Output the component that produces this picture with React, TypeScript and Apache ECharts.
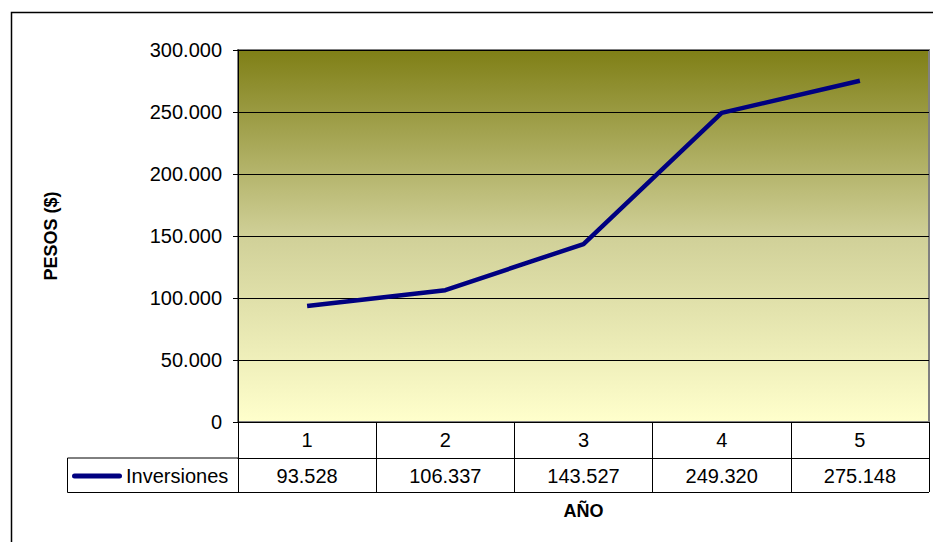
import React, { useEffect, useRef } from "react";
import * as echarts from "echarts";

const categories = ["1", "2", "3", "4", "5"];
const inversiones = [93528, 106337, 143527, 249320, 275148];
const seriesName = "Inversiones";
const yTitle = "PESOS ($)";
const xTitle = "AÑO";

const fmt = (v: number) => String(Math.round(v)).replace(/\B(?=(\d{3})+(?!\d))/g, ".");
const valueLabels = inversiones.map(fmt);

const FONT = "Liberation Sans, Arial, sans-serif";

export default function App() {
  const ref = useRef<HTMLDivElement>(null);
  useEffect(() => {
    if (!ref.current) return;
    const chart = echarts.init(ref.current, null, { renderer: "svg" });
    chart.setOption({
      animation: false,
      textStyle: { fontFamily: FONT, color: "#000" },
      grid: {
        left: 238,
        top: 50,
        right: 4,
        bottom: 120,
        show: true,
        borderColor: "#808080",
        borderWidth: 2,
        backgroundColor: new echarts.graphic.LinearGradient(0, 0, 0, 1, [
          { offset: 0, color: "#7f7f16" },
          { offset: 0.5, color: "#d0d098" },
          { offset: 1, color: "#ffffcc" },
        ]),
      },
      legend: {
        left: 72,
        top: 466,
        padding: 0,
        itemWidth: 50,
        itemHeight: 5,
        itemGap: 4,
        textStyle: { fontSize: 20, fontFamily: FONT, color: "#000", padding: [0, 0, 0, -1] },
        data: [
          {
            name: seriesName,
            icon: "path://M2.5,0 L47.5,0 A2.5,2.5 0 0 1 47.5,5 L2.5,5 A2.5,2.5 0 0 1 2.5,0 Z",
            itemStyle: { color: "#000080" },
          },
        ],
      },
      xAxis: [
        {
          type: "category",
          data: categories,
          boundaryGap: true,
          position: "bottom",
          axisLine: { lineStyle: { color: "#000", width: 1 } },
          axisTick: { show: true, interval: 0, length: 70, lineStyle: { color: "#000" } },
          axisLabel: { fontSize: 20, color: "#000", margin: 8, fontFamily: FONT },
          name: xTitle,
          nameLocation: "middle",
          nameGap: 80,
          nameTextStyle: { fontSize: 18, fontWeight: "bold", color: "#000", fontFamily: FONT },
        },
        {
          type: "category",
          data: valueLabels,
          boundaryGap: true,
          position: "bottom",
          offset: 36,
          axisLine: { show: true, lineStyle: { color: "#000", width: 1 } },
          axisTick: { show: false },
          axisLabel: { fontSize: 20, color: "#000", margin: 8, fontFamily: FONT, interval: 0 },
        },
      ],
      yAxis: {
        type: "value",
        min: 0,
        max: 300000,
        interval: 50000,
        axisLine: { show: true, lineStyle: { color: "#000", width: 1 } },
        axisTick: { show: true, length: 5, lineStyle: { color: "#000" } },
        axisLabel: { fontSize: 20, color: "#000", margin: 16, formatter: (v: number) => fmt(v), fontFamily: FONT },
        splitLine: { show: true, lineStyle: { color: "#000", width: 1 } },
        name: yTitle,
        nameLocation: "middle",
        nameGap: 178,
        nameRotate: 90,
        nameTextStyle: { fontSize: 18, fontWeight: "bold", color: "#000", fontFamily: FONT },
      },
      series: [
        {
          name: seriesName,
          type: "line",
          xAxisIndex: 0,
          data: inversiones,
          symbol: "none",
          lineStyle: { color: "#000080", width: 4.5 },
          itemStyle: { color: "#000080" },
        },
      ],
      graphic: [
        {
          type: "rect",
          shape: { x: 11.5, y: 12.5, width: 940, height: 560 },
          style: { fill: "none", stroke: "#000", lineWidth: 1.5 },
          silent: true,
        },
        {
          type: "polyline",
          shape: { points: [[238, 458], [67.5, 458], [67.5, 492.5], [929, 492.5]] },
          style: { fill: "none", stroke: "#000", lineWidth: 1 },
          silent: true,
        },
      ],
    });
    return () => chart.dispose();
  }, []);
  return (
    <div
      ref={ref}
      style={{ position: "absolute", left: 0, top: 0, width: 933, height: 542, background: "#fff" }}
    />
  );
}
